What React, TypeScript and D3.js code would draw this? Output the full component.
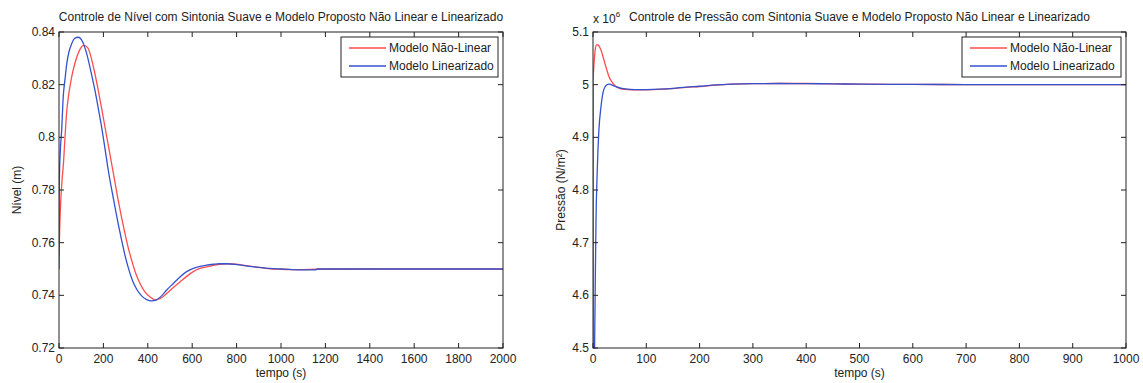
import React from "react";
import * as d3 from "d3";

// ---- Nível (m) : sintonia suave ----
const nivelTempoLin = [0, 0.5, 2, 6, 12, 19, 27, 35, 45, 57, 70, 87, 105, 125, 145, 162, 177, 192, 207, 222, 237, 252, 267, 282, 297, 312, 330, 350, 372, 395, 417, 440, 462, 485, 515, 545, 575, 605, 635, 665, 695, 725, 755, 800, 850, 900, 950, 1000, 1050, 1100, 1158, 1162, 1400, 2000];
const nivelLinearizado = [0.75, 0.775, 0.785, 0.795, 0.8027, 0.8153, 0.822, 0.828, 0.8325, 0.8355, 0.8375, 0.838, 0.8365, 0.8317, 0.8245, 0.8178, 0.811, 0.8039, 0.7958, 0.7875, 0.7803, 0.7736, 0.767, 0.761, 0.7553, 0.7505, 0.7458, 0.7423, 0.7398, 0.7384, 0.7379, 0.7383, 0.7398, 0.742, 0.7445, 0.747, 0.749, 0.7502, 0.751, 0.7515, 0.7518, 0.752, 0.752, 0.7517, 0.7511, 0.7506, 0.7502, 0.75, 0.7498, 0.7497, 0.7497, 0.75, 0.75, 0.75];

const nivelTempoNL = [0, 3, 8, 14, 20, 27, 35, 45, 57, 68, 80, 95, 112, 130, 155, 177, 192, 207, 222, 237, 252, 267, 282, 297, 312, 327, 345, 365, 387, 410, 432, 455, 485, 515, 545, 575, 605, 635, 665, 695, 725, 760, 800, 850, 900, 950, 1000, 1050, 1100, 1160, 1400, 2000];
const nivelNaoLinear = [0.755, 0.765, 0.776, 0.784, 0.79, 0.8, 0.81, 0.817, 0.8229, 0.827, 0.8304, 0.8335, 0.8349, 0.834, 0.8267, 0.8178, 0.811, 0.804, 0.797, 0.79, 0.783, 0.776, 0.7695, 0.7635, 0.758, 0.7534, 0.7485, 0.7445, 0.7413, 0.7394, 0.7383, 0.7387, 0.7407, 0.743, 0.7451, 0.7472, 0.749, 0.7502, 0.7508, 0.7514, 0.7518, 0.752, 0.7518, 0.7512, 0.7506, 0.7501, 0.7499, 0.7498, 0.7498, 0.7499, 0.75, 0.75];

const nivelXTicks = [0, 200, 400, 600, 800, 1000, 1200, 1400, 1600, 1800, 2000];
const nivelYTicks = [0.72, 0.74, 0.76, 0.78, 0.8, 0.82, 0.84];
const nivelYTickLabels = ["0.72", "0.74", "0.76", "0.78", "0.8", "0.82", "0.84"];

// ---- Pressão (x 10^6 N/m²) : sintonia suave ----
const pressaoTempoLin = [0, 0.3, 2, 4, 5.6, 8, 11, 15, 19, 25, 30, 41, 54, 70, 85, 100, 125, 150, 175, 200, 230, 260, 300, 350, 400, 450, 500, 600, 700, 800, 900, 1000];
const pressaoLinearizado = [5.0, 4.3, 4.4, 4.6, 4.74, 4.838, 4.913, 4.958, 4.986, 4.999, 5.001, 4.997, 4.993, 4.991, 4.9905, 4.9907, 4.9915, 4.993, 4.9955, 4.997, 4.9995, 5.001, 5.002, 5.0022, 5.002, 5.0015, 5.001, 5.0005, 5.0002, 5.0, 5.0, 5.0];

const pressaoTempoNL = [0, 0.5, 2, 4, 7, 10, 13, 16, 19, 22.5, 26, 29, 33, 38, 44, 51, 60, 70, 85, 100, 125, 150, 175, 200, 230, 260, 300, 350, 400, 450, 500, 600, 700, 800, 900, 1000];
const pressaoNaoLinear = [5.0, 5.015, 5.04, 5.065, 5.076, 5.075, 5.07, 5.063, 5.052, 5.04, 5.028, 5.018, 5.009, 5.002, 4.996, 4.9926, 4.991, 4.9903, 4.9902, 4.9903, 4.9912, 4.9925, 4.995, 4.9965, 4.9992, 5.001, 5.002, 5.0022, 5.0022, 5.0015, 5.001, 5.0005, 5.0002, 5.0, 5.0, 5.0];

const pressaoXTicks = [0, 100, 200, 300, 400, 500, 600, 700, 800, 900, 1000];
const pressaoYTicks = [4.5, 4.6, 4.7, 4.8, 4.9, 5.0, 5.1];
const pressaoYTickLabels = ["4.5", "4.6", "4.7", "4.8", "4.9", "5", "5.1"];

const legendLabels = ["Modelo Não-Linear", "Modelo Linearizado"];

const RED = "#ff4d4d";
const BLUE = "#3352cf";
const INK = "#222";
const FONT = "'Liberation Sans', Arial, Helvetica, sans-serif";

type Series = { t: number[]; v: number[]; color: string };

type PanelProps = {
  id: string;
  left: number;
  right: number;
  top: number;
  bottom: number;
  xDomain: [number, number];
  yDomain: [number, number];
  xTicks: number[];
  yTicks: number[];
  yTickLabels: string[];
  title: string;
  yLabel: React.ReactNode;
  yLabelX: number;
  series: Series[];
  legendX: number;
  legendW: number;
  exponent?: boolean;
};

function Panel(p: PanelProps) {
  const x = d3.scaleLinear().domain(p.xDomain).range([p.left, p.right]);
  const y = d3.scaleLinear().domain(p.yDomain).range([p.bottom, p.top]);
  const tickLen = 5;
  const line = d3
    .line<[number, number]>()
    .x((d) => x(d[0]))
    .y((d) => y(d[1]))
    .curve(d3.curveMonotoneX);
  const cx = (p.left + p.right) / 2;
  const cy = (p.top + p.bottom) / 2;
  const legendTop = p.top + 5;
  const legendH = 40;

  return (
    <g>
      <defs>
        <clipPath id={p.id}>
          <rect x={p.left} y={p.top} width={p.right - p.left} height={p.bottom - p.top} />
        </clipPath>
      </defs>
      <text x={cx} y={p.top - 11} textAnchor="middle" fontSize={12} fill={INK}>
        {p.title}
      </text>
      {p.exponent && (
        <text x={p.left} y={p.top - 9} fontSize={12} fill={INK}>
          x 10
          <tspan fontSize={8} dy={-6}>
            6
          </tspan>
        </text>
      )}
      <g clipPath={`url(#${p.id})`}>
        {p.series.map((s, i) => (
          <path
            key={i}
            d={line(s.t.map((t, k) => [t, s.v[k]] as [number, number])) || ""}
            fill="none"
            stroke={s.color}
            strokeWidth={1.3}
          />
        ))}
      </g>
      <rect
        x={p.left}
        y={p.top}
        width={p.right - p.left}
        height={p.bottom - p.top}
        fill="none"
        stroke={INK}
        strokeWidth={1}
      />
      {p.xTicks.map((t) => (
        <g key={`x${t}`}>
          <line x1={x(t)} x2={x(t)} y1={p.bottom} y2={p.bottom - tickLen} stroke={INK} />
          <line x1={x(t)} x2={x(t)} y1={p.top} y2={p.top + tickLen} stroke={INK} />
          <text x={x(t)} y={p.bottom + 15} textAnchor="middle" fontSize={12} fill={INK}>
            {t}
          </text>
        </g>
      ))}
      {p.yTicks.map((v, i) => (
        <g key={`y${v}`}>
          <line x1={p.left} x2={p.left + tickLen} y1={y(v)} y2={y(v)} stroke={INK} />
          <line x1={p.right} x2={p.right - tickLen} y1={y(v)} y2={y(v)} stroke={INK} />
          <text x={p.left - 4} y={y(v) + 4} textAnchor="end" fontSize={12} fill={INK}>
            {p.yTickLabels[i]}
          </text>
        </g>
      ))}
      <text x={cx} y={p.bottom + 29} textAnchor="middle" fontSize={12} fill={INK}>
        tempo (s)
      </text>
      <text
        transform={`translate(${p.yLabelX},${cy}) rotate(-90)`}
        textAnchor="middle"
        fontSize={12}
        fill={INK}
      >
        {p.yLabel}
      </text>
      <g>
        <rect
          x={p.legendX}
          y={legendTop}
          width={p.legendW}
          height={legendH}
          fill="#fff"
          stroke={INK}
          strokeWidth={1}
        />
        {legendLabels.map((lab, i) => {
          const ly = legendTop + 11 + i * 18;
          return (
            <g key={lab}>
              <line
                x1={p.legendX + 8}
                x2={p.legendX + 45}
                y1={ly}
                y2={ly}
                stroke={p.series[i].color}
                strokeWidth={1.3}
              />
              <text x={p.legendX + 48} y={ly + 4} fontSize={12} fill={INK}>
                {lab}
              </text>
            </g>
          );
        })}
      </g>
    </g>
  );
}

export default function App() {
  return (
    <svg
      width={1143}
      height={383}
      viewBox="0 0 1143 383"
      style={{ position: "absolute", left: 0, top: 0, background: "#fff", fontFamily: FONT }}
    >
      <rect width={1143} height={383} fill="#fff" />
      <Panel
        id="clipNivel"
        left={59}
        right={503}
        top={32}
        bottom={348}
        xDomain={[0, 2000]}
        yDomain={[0.72, 0.84]}
        xTicks={nivelXTicks}
        yTicks={nivelYTicks}
        yTickLabels={nivelYTickLabels}
        title="Controle de Nível com Sintonia Suave e Modelo Proposto Não Linear e Linearizado"
        yLabel="Nível (m)"
        yLabelX={21}
        series={[
          { t: nivelTempoNL, v: nivelNaoLinear, color: RED },
          { t: nivelTempoLin, v: nivelLinearizado, color: BLUE },
        ]}
        legendX={341}
        legendW={157}
      />
      <Panel
        id="clipPressao"
        left={593}
        right={1126}
        top={32}
        bottom={348}
        xDomain={[0, 1000]}
        yDomain={[4.5, 5.1]}
        xTicks={pressaoXTicks}
        yTicks={pressaoYTicks}
        yTickLabels={pressaoYTickLabels}
        title="Controle de Pressão com Sintonia Suave e Modelo Proposto Não Linear e Linearizado"
        yLabel="Pressão (N/m²)"
        yLabelX={565}
        series={[
          { t: pressaoTempoNL, v: pressaoNaoLinear, color: RED },
          { t: pressaoTempoLin, v: pressaoLinearizado, color: BLUE },
        ]}
        legendX={962}
        legendW={159}
        exponent
      />
    </svg>
  );
}
